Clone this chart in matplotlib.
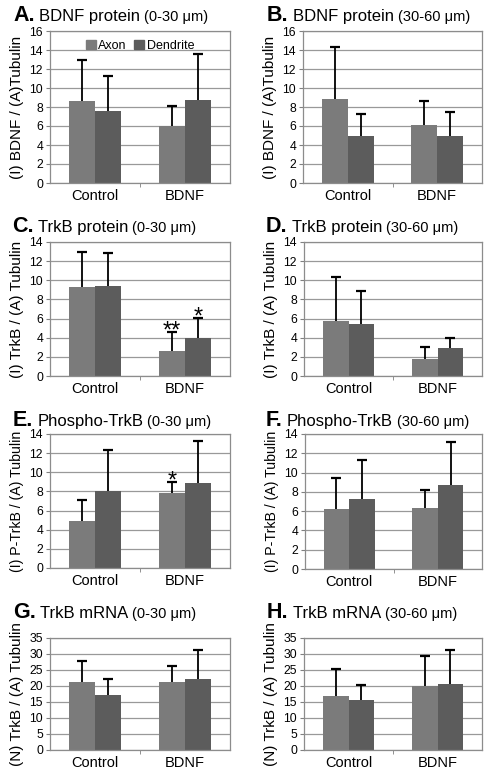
import numpy as np
import matplotlib
matplotlib.use("Agg")
import matplotlib.pyplot as plt
from matplotlib.patches import Patch

plt.rcParams['font.family'] = ['Liberation Sans', 'DejaVu Sans']

# Data: bar means and top of the error bar
groups = ["Control", "BDNF"]
series = ["Axon", "Dendrite"]

bdnf030Mean = [[8.6, 6.0], [7.6, 8.7]]
bdnf030Top = [[13.0, 8.1], [11.3, 13.6]]
bdnf3060Mean = [[8.8, 6.1], [5.0, 4.9]]
bdnf3060Top = [[14.3, 8.6], [7.3, 7.5]]
trkb030Mean = [[9.3, 2.6], [9.4, 4.0]]
trkb030Top = [[13.0, 4.6], [12.8, 6.1]]
trkb3060Mean = [[5.7, 1.8], [5.4, 2.9]]
trkb3060Top = [[10.3, 3.0], [8.9, 4.0]]
ptrkb030Mean = [[4.9, 7.8], [8.0, 8.9]]
ptrkb030Top = [[7.1, 9.0], [12.3, 13.3]]
ptrkb3060Mean = [[6.2, 6.3], [7.3, 8.7]]
ptrkb3060Top = [[9.4, 8.2], [11.3, 13.2]]
mrna030Mean = [[21.3, 21.2], [17.1, 22.1]]
mrna030Top = [[27.8, 26.3], [22.2, 31.2]]
mrna3060Mean = [[17.0, 20.0], [15.6, 20.7]]
mrna3060Top = [[25.2, 29.3], [20.3, 31.3]]

# significance marks: (series index, group index, text)
trkb030Stars = [(0, 1, "**"), (1, 1, "*")]
ptrkb030Stars = [(0, 1, "*")]

W, H = 493, 780
fig = plt.figure(figsize=(W / 100, H / 100), dpi=100)
renderer = fig.canvas.get_renderer()

barColors = ["#7b7b7b", "#5c5c5c"]
barWidth = 0.29


def _axes(left, right, top, bottom):
    return fig.add_axes([left / W, 1 - bottom / H, (right - left) / W, (bottom - top) / H])


def _title(xPx, yPx, letter, name, rangeText):
    x = xPx
    parts = [(letter, 15.5, "bold", 4), (name, 12, "normal", 4), (rangeText, 10.5, "normal", 0)]
    for text, size, weight, gap in parts:
        t = fig.text(x / W, 1 - yPx / H, text, fontsize=size, fontweight=weight,
                     ha="left", va="baseline")
        x += t.get_window_extent(renderer).width + gap


def _panel(box, titleXY, letter, name, rangeText, ylabel, means, tops, ymax, ystep,
           stars=None, legend=False, ylabelSize=11):
    ax = _axes(*box)
    centers = np.arange(len(groups)) + 0.5
    for s in range(len(series)):
        xs = centers + (s - 0.5) * barWidth
        ax.bar(xs, means[s], width=barWidth, color=barColors[s], zorder=2, label=series[s])
        ax.vlines(xs, means[s], tops[s], color="black", linewidth=1.3, zorder=3)
        ax.plot(xs, tops[s], linestyle="none", marker="_", markersize=7,
                markeredgewidth=1.6, color="black", zorder=3)
    if stars:
        for s, g, text in stars:
            ax.annotate(text, xy=(centers[g] + (s - 0.5) * barWidth, tops[s][g]),
                        xytext=(0, -4), textcoords="offset points", ha="center",
                        va="baseline", fontsize=17, zorder=4)
    ax.set_xlim(0, 2)
    ax.set_ylim(0, ymax)
    ax.set_yticks(np.arange(0, ymax + 0.1, ystep))
    ax.yaxis.grid(True, color="#999999", linewidth=0.9, zorder=0)
    ax.set_axisbelow(True)
    ax.set_xticks(centers)
    ax.set_xticklabels(groups, fontsize=10.5)
    ax.set_xticks([1], minor=True)
    ax.tick_params(axis="x", which="major", length=0, pad=4)
    ax.tick_params(axis="x", which="minor", length=3, color="#808080")
    ax.tick_params(axis="y", labelsize=8.8, length=3, color="#808080", pad=2)
    for sp in ax.spines.values():
        sp.set_color("#8c8c8c")
        sp.set_linewidth(0.9)
    ax.set_ylabel(ylabel, fontsize=ylabelSize)
    ax.yaxis.set_label_coords(-26.0 / (box[1] - box[0]), 0.5)
    if legend:
        handles = [Patch(color=c) for c in barColors]
        ax.legend(handles, series, loc="upper center", ncol=2, frameon=False,
                  fontsize=9, handlelength=0.8, handleheight=0.8, handletextpad=0.2,
                  columnspacing=0.6, borderaxespad=0.3)
    _title(titleXY[0], titleXY[1], letter, name, rangeText)
    return ax


_panel((50, 230, 31, 183), (13, 21), "A.", "BDNF protein", "(0-30 μm)",
       "(I) BDNF / (A)Tubulin", bdnf030Mean, bdnf030Top, 16, 2, legend=True)
_panel((303, 482, 31, 183), (267, 21), "B.", "BDNF protein", "(30-60 μm)",
       "(I) BDNF / (A)Tubulin", bdnf3060Mean, bdnf3060Top, 16, 2)
_panel((50, 230, 242, 376), (12, 232), "C.", "TrkB protein", "(0-30 μm)",
       "(I) TrkB / (A) Tubulin", trkb030Mean, trkb030Top, 14, 2, stars=trkb030Stars)
_panel((304, 482, 242, 376), (266, 232), "D.", "TrkB protein", "(30-60 μm)",
       "(I) TrkB / (A) Tubulin", trkb3060Mean, trkb3060Top, 14, 2)
_panel((50, 230, 434, 568), (13, 426), "E.", "Phospho-TrkB", "(0-30 μm)",
       "(I) P-TrkB / (A) Tubulin", ptrkb030Mean, ptrkb030Top, 14, 2,
       stars=ptrkb030Stars, ylabelSize=10.2)
_panel((305, 482, 434, 569), (266, 426), "F.", "Phospho-TrkB", "(30-60 μm)",
       "(I) P-TrkB / (A) Tubulin", ptrkb3060Mean, ptrkb3060Top, 14, 2, ylabelSize=10.2)
_panel((50, 230, 638, 750), (13, 618), "G.", "TrkB mRNA", "(0-30 μm)",
       "(N) TrkB / (A) Tubulin", mrna030Mean, mrna030Top, 35, 5)
_panel((304, 482, 638, 750), (267, 618), "H.", "TrkB mRNA", "(30-60 μm)",
       "(N) TrkB / (A) Tubulin", mrna3060Mean, mrna3060Top, 35, 5)

fig.savefig("out.png", dpi=100)
